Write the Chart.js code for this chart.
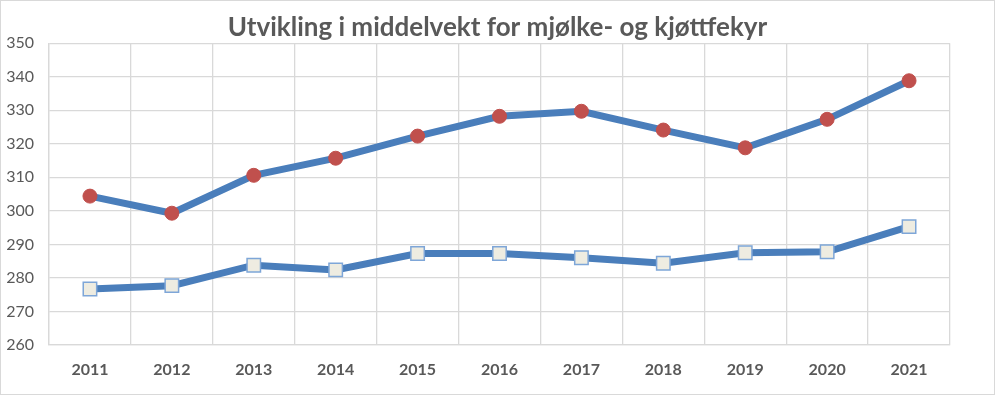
<!DOCTYPE html>
<html>
<head>
<meta charset="utf-8">
<script src="https://cdn.jsdelivr.net/npm/chart.js@4"></script>
<style>
  body { margin: 0; background: #fff; }
  #wrap { width: 995px; height: 395px; box-sizing: border-box; border: 1px solid #d9d9d9; position: relative; }
  #myChart { position: absolute; left: 0; top: 0; }
</style>
</head>
<body>
<div id="wrap"><canvas id="myChart" width="993" height="393"></canvas></div>
<script>
// Data
let years = ["2011", "2012", "2013", "2014", "2015", "2016", "2017", "2018", "2019", "2020", "2021"];
let meatCows = [304.4, 299.3, 310.6, 315.7, 322.3, 328.2, 329.7, 324.1, 318.8, 327.3, 338.8]; // red dots
let milkCows = [276.7, 277.7, 283.8, 282.4, 287.3, 287.3, 286.0, 284.4, 287.5, 287.8, 295.3]; // squares
let yMin = 260;
let yMax = 350;
let yStep = 10;

let lineBlue = "#4a7ebb";
let gridGrey = "#d9d9d9";
let textGrey = "#595959";

const data = {
  labels: years,
  datasets: [
    {
      label: "kjøttfe",
      data: meatCows,
      borderColor: lineBlue,
      borderWidth: 7,
      pointStyle: "circle",
      pointRadius: 7,
      pointBackgroundColor: "#c0504d",
      pointBorderColor: "#c0504d",
      pointBorderWidth: 1,
      tension: 0,
    },
    {
      label: "mjølkeku",
      data: milkCows,
      borderColor: lineBlue,
      borderWidth: 7,
      pointStyle: "rect",
      pointRadius: 9.5,
      pointBackgroundColor: "#eeece1",
      pointBorderColor: "#7ea6d8",
      pointBorderWidth: 1.5,
      tension: 0,
    },
  ],
};

const config = {
  type: "line",
  data: data,
  options: {
    responsive: false,
    animation: false,
    layout: { padding: { left: 4, right: 4, top: 0, bottom: 0 } },
    plugins: {
      legend: { display: false },
      tooltip: { enabled: false },
      title: {
        display: true,
        text: "Utvikling i middelvekt for mjølke- og kjøttfekyr",
        color: textGrey,
        font: { family: "Lato", size: 26, weight: "bold" },
        padding: { top: 11, bottom: 0 },
      },
    },
    scales: {
      x: {
        offset: true,
        grid: { color: gridGrey, lineWidth: 1.3, drawTicks: false, offset: true },
        border: { color: gridGrey, width: 1.3 },
        ticks: {
          color: textGrey,
          padding: 15,
          font: { family: "Lato", size: 16, weight: "bold" },
        },
        afterFit: function (scale) { scale.height = 49; },
      },
      y: {
        min: yMin,
        max: yMax,
        grid: { color: gridGrey, lineWidth: 1.3, drawTicks: false },
        border: { color: gridGrey, width: 1.3 },
        ticks: {
          stepSize: yStep,
          color: textGrey,
          padding: 15,
          font: { family: "Lato", size: 16 },
        },
        afterFit: function (scale) { scale.width = 44; },
      },
      // empty right-hand axis, only keeps space so the title stays centred on the canvas
      yRight: {
        position: "right",
        min: yMin,
        max: yMax,
        grid: { display: false },
        border: { display: false },
        ticks: { display: false },
        afterFit: function (scale) { scale.width = 40; },
      },
    },
  },
};

const canvasChart = document.getElementById("myChart").getContext("2d");
const myChart = new Chart(canvasChart, config);
</script>
</body>
</html>
